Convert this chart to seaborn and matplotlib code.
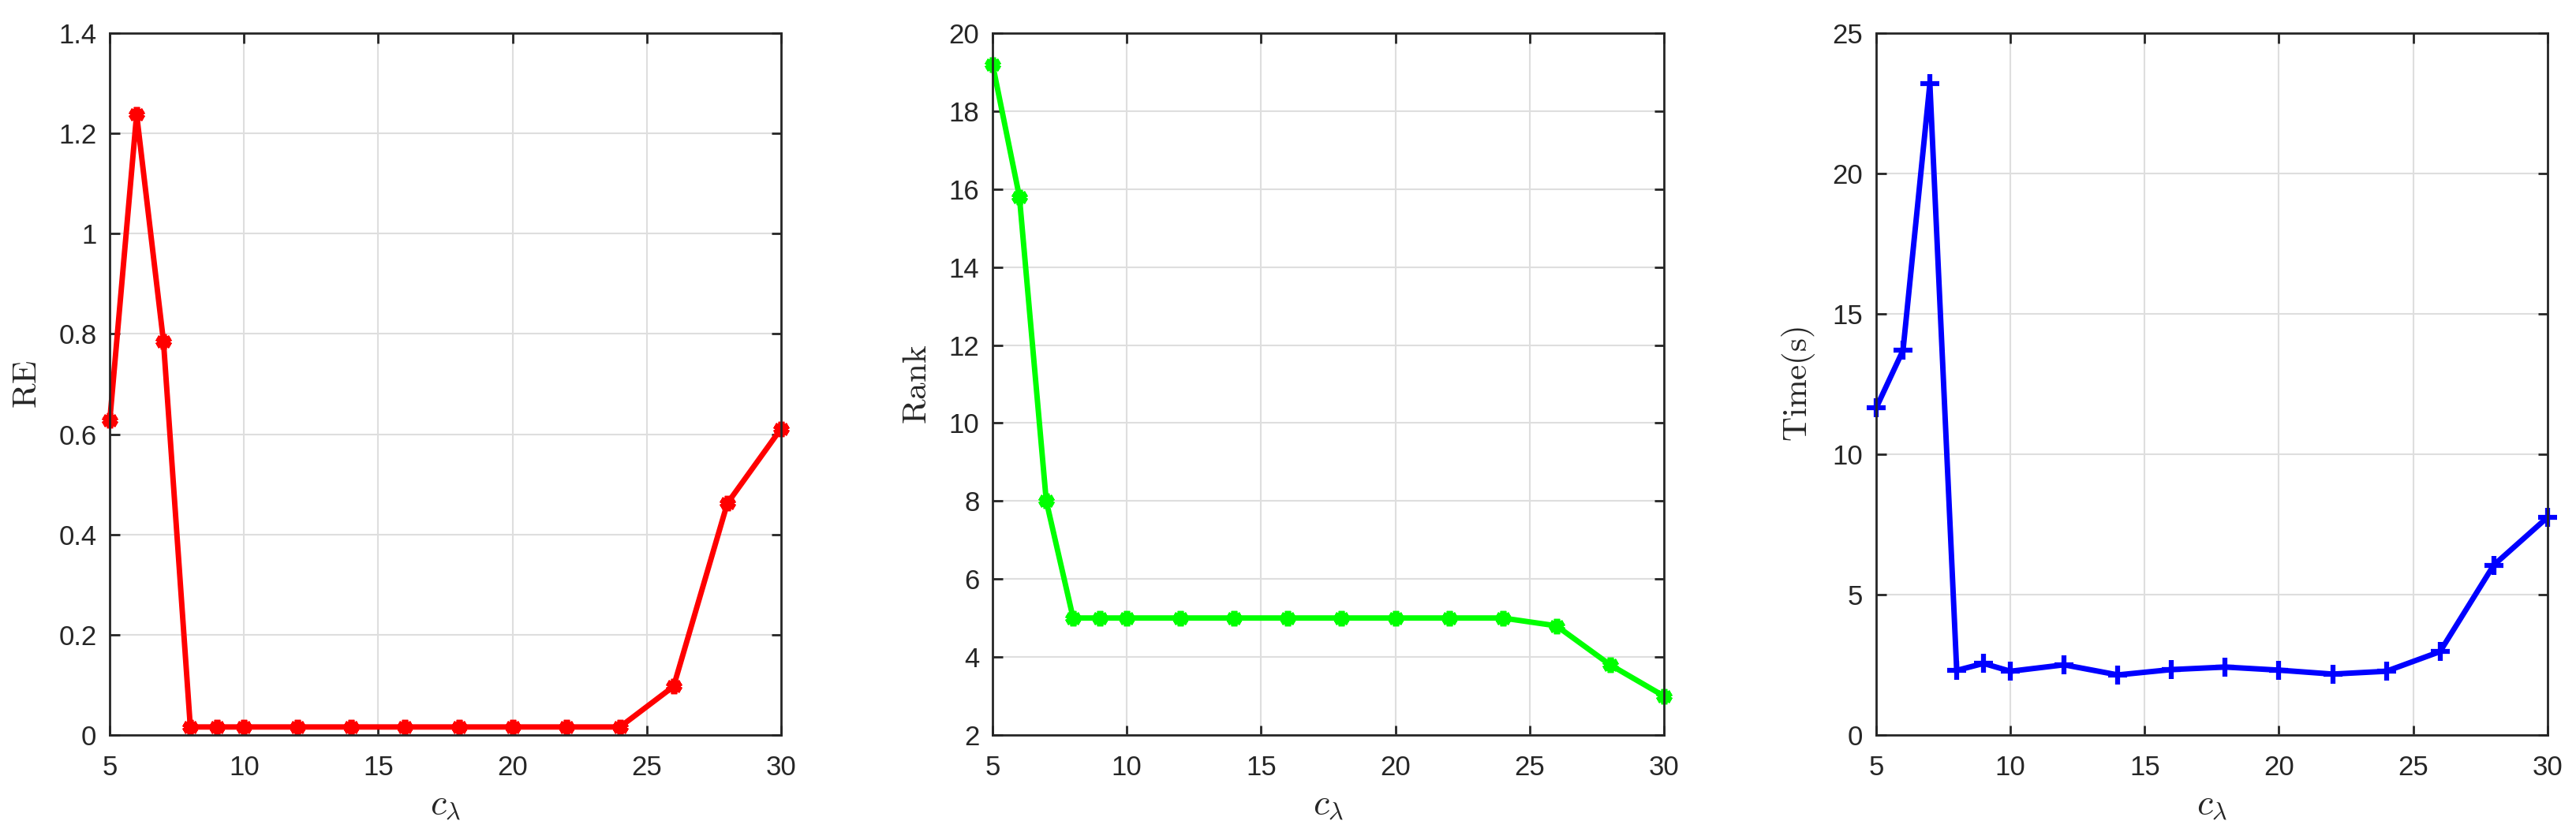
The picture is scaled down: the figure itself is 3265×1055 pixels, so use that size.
import matplotlib
matplotlib.use("Agg")
import matplotlib.pyplot as plt
import seaborn as sns

c_lambda = [5, 6, 7, 8, 9, 10, 12, 14, 16, 18, 20, 22, 24, 26, 28, 30]
re_vals = [0.627, 1.238, 0.785, 0.016, 0.016, 0.016, 0.016, 0.016, 0.016,
           0.016, 0.016, 0.016, 0.016, 0.097, 0.462, 0.611]
rank_vals = [19.2, 15.8, 8.0, 5.0, 5.0, 5.0, 5.0, 5.0, 5.0, 5.0, 5.0, 5.0,
             5.0, 4.8, 3.8, 3.0]
time_vals = [11.65, 13.7, 23.2, 2.3, 2.55, 2.27, 2.5, 2.14, 2.33, 2.42, 2.31,
             2.17, 2.27, 2.97, 6.05, 7.75]

sns.set_theme(style="white")
plt.rcParams['font.family'] = ['Liberation Sans', 'DejaVu Sans']
plt.rcParams['mathtext.fontset'] = 'cm'

fig = plt.figure(figsize=(32.66, 10.55), dpi=100)

lefts = [0.0426, 0.3852, 0.7281]
w, b, h = 0.2605, 0.1166, 0.8436

panels = [
    (re_vals, '#ff0000', (6, 2, 0), r'$\mathrm{RE}$', (0, 1.4), [0, 0.2, 0.4, 0.6, 0.8, 1, 1.2, 1.4],
     ['0', '0.2', '0.4', '0.6', '0.8', '1', '1.2', '1.4']),
    (rank_vals, '#00ff00', (6, 2, 0), r'$\mathrm{Rank}$', (2, 20), list(range(2, 21, 2)), None),
    (time_vals, '#0000ff', '+', r'$\mathrm{Time(s)}$', (0, 25), [0, 5, 10, 15, 20, 25], None),
]

for left, (vals, col, mk, ylab, ylim, yticks, ytl) in zip(lefts, panels):
    ax = fig.add_axes([left, b, w, h])
    sns.lineplot(x=c_lambda, y=vals, ax=ax, color=col, linewidth=5,
                 marker=mk, markersize=14 if mk != '+' else 17,
                 markeredgewidth=5.5 if mk != '+' else 4.5,
                 markeredgecolor=col, markerfacecolor=col)
    ax.set_xlim(5, 30)
    ax.set_ylim(*ylim)
    ax.set_xticks([5, 10, 15, 20, 25, 30])
    ax.set_yticks(yticks)
    if ytl:
        ax.set_yticklabels(ytl)
    ax.grid(True, color='#dedede', linewidth=1.5)
    ax.set_axisbelow(True)
    for s in ax.spines.values():
        s.set_color('#262626')
        s.set_linewidth(2.0)
        s.set_visible(True)
    ax.tick_params(direction='in', length=9, width=2, color='#262626',
                   labelsize=25, labelcolor='#262626', top=True, right=True,
                   bottom=True, left=True)
    ax.tick_params(axis='x', pad=18)
    ax.tick_params(axis='y', pad=12)
    ax.set_xlabel(r'$c_\lambda$', fontsize=33, color='#262626', labelpad=6)
    ax.set_ylabel(ylab, fontsize=31, color='#262626', labelpad=14)
    for ln in ax.lines:
        ln.set_clip_on(False)

fig.savefig('out.png', dpi=100, facecolor='white')
